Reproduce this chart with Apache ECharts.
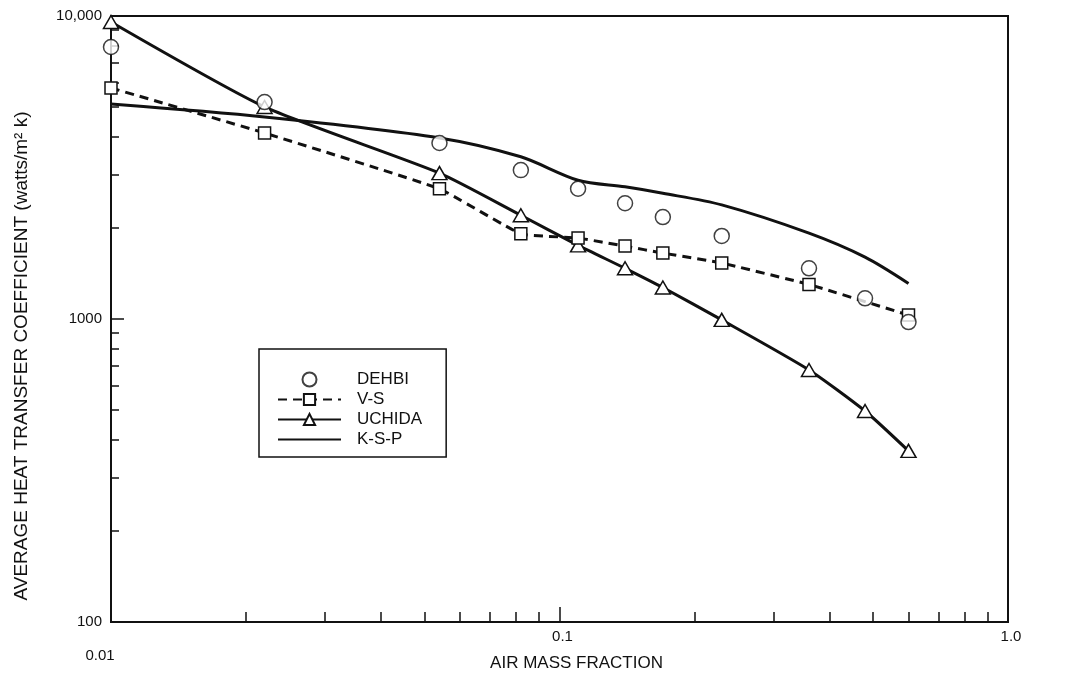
<!DOCTYPE html>
<html>
<head>
<meta charset="utf-8">
<script src="https://cdn.jsdelivr.net/npm/echarts@6/dist/echarts.min.js"></script>
<style>
html,body{margin:0;padding:0;background:#fff;}
#chart{width:1071px;height:690px;}
</style>
</head>
<body>
<div id="chart"></div>
<script>
// ---- data ----
var airMassFraction = [0.01, 0.022, 0.054, 0.082, 0.11, 0.14, 0.17, 0.23, 0.36, 0.48, 0.60];
var dehbi  = [7900, 5200, 3810, 3100, 2690, 2410, 2170, 1880, 1470, 1170, 977];
var vs     = [5790, 4110, 2690, 1910, 1850, 1740, 1650, 1530, 1300, null, 1030];
var uchida = [9550, 5010, 3030, 2200, 1750, 1470, 1270, 993, 679, 497, 367];
var ksp    = [5120, 4640, 3960, 3430, 2870, 2730, 2600, 2380, 1920, 1600, 1310];

var xTickLabels = [0.01, 0.1, 1];
var xMinorTicks = [0.02,0.03,0.04,0.05,0.06,0.07,0.08,0.09,0.1,0.2,0.3,0.4,0.5,0.6,0.7,0.8,0.9];
var yTickLabels = [100, 1000, 10000];
var yMinorTicks = [200,300,400,500,600,700,800,900,1000,2000,3000,4000,5000,6000,7000,8000,9000];

function pairs(ys) {
  var out = [];
  for (var i = 0; i < airMassFraction.length; i++) {
    if (ys[i] != null) out.push([airMassFraction[i], ys[i]]);
  }
  return out;
}

var FONT = '"Liberation Sans", Arial, Helvetica, sans-serif';
var INK = '#111';
var CLEAR = 'rgba(0,0,0,0)';

var chart = echarts.init(document.getElementById('chart'), null, {renderer: 'canvas'});

var option = {
  backgroundColor: '#fff',
  animation: false,
  grid: {
    left: 111, right: 63, top: 16, bottom: 68,
    show: true, borderColor: INK, borderWidth: 2, backgroundColor: 'transparent'
  },
  xAxis: [{
    type: 'log', logBase: 10, min: 0.01, max: 1,
    position: 'bottom',
    axisLine: {show: true, lineStyle: {color: INK, width: 2}},
    axisTick: {show: true, inside: true, length: 10, customValues: xMinorTicks,
               lineStyle: {color: INK, width: 1.5}},
    axisLabel: {show: true, margin: 7, customValues: xTickLabels,
                color: INK, fontSize: 15, fontFamily: FONT,
                formatter: function (v) {
                  v = Number(Number(v).toPrecision(3));
                  if (v === 0.01) return '{low|0.01}';
                  return '{n|' + (v === 1 ? '1.0' : String(v)) + '}';
                },
                rich: {
                  low: {color: INK, fontSize: 15, fontFamily: FONT, padding: [19, 22, 0, 0]},
                  n: {color: INK, fontSize: 15, fontFamily: FONT, padding: [0, 0, 0, 6]}
                }},
    splitLine: {show: false},
    name: 'AIR MASS FRACTION', nameLocation: 'middle', nameGap: 33, nameMoveOverlap: false,
    nameTextStyle: {color: INK, fontSize: 17, fontFamily: FONT, padding: [0, 0, 0, 34]}
  }, {
    type: 'log', logBase: 10, min: 0.01, max: 1,
    position: 'bottom',
    axisLine: {show: false},
    axisTick: {show: true, inside: true, length: 15, customValues: [0.1],
               lineStyle: {color: INK, width: 1.5}},
    axisLabel: {show: false},
    splitLine: {show: false}
  }],
  yAxis: [{
    type: 'log', logBase: 10, min: 100, max: 10000,
    position: 'left',
    axisLine: {show: true, lineStyle: {color: INK, width: 2}},
    axisTick: {show: true, inside: true, length: 8, customValues: yMinorTicks,
               lineStyle: {color: INK, width: 1.5}},
    axisLabel: {show: true, margin: 9, customValues: yTickLabels,
                color: INK, fontSize: 15, fontFamily: FONT,
                formatter: function (v) { v = Math.round(v); return v === 10000 ? '10,000' : String(v); }},
    splitLine: {show: false}
  }, {
    type: 'log', logBase: 10, min: 100, max: 10000,
    position: 'left',
    axisLine: {show: false},
    axisTick: {show: true, inside: true, length: 13, customValues: [1000],
               lineStyle: {color: INK, width: 1.5}},
    axisLabel: {show: false},
    splitLine: {show: false}
  }],
  legend: {
    orient: 'vertical',
    left: 259, top: 349,
    padding: [22, 24, 9, 18],
    itemGap: 3,
    itemWidth: 63, itemHeight: 14,
    borderColor: INK, borderWidth: 1.5,
    backgroundColor: '#fff',
    textStyle: {color: INK, fontSize: 17, fontFamily: FONT, padding: [0, 0, 0, 11]},
    data: ['DEHBI', 'V-S', 'UCHIDA',
           {name: 'K-S-P', itemStyle: {color: CLEAR, borderColor: CLEAR, borderWidth: 0}}]
  },
  graphic: [{
    type: 'text',
    x: 22, y: 356,
    rotation: Math.PI / 2,
    style: {
      text: 'AVERAGE HEAT TRANSFER COEFFICIENT (watts/m\u00B2 k)',
      fill: INK, font: '19px ' + FONT,
      textAlign: 'center', textVerticalAlign: 'middle'
    }
  }],
  series: [{
    name: 'K-S-P', type: 'line', xAxisIndex: 0, yAxisIndex: 0,
    data: pairs(ksp), smooth: 0.3, symbol: 'none',
    lineStyle: {color: INK, width: 3}, itemStyle: {color: INK}, z: 2
  }, {
    name: 'UCHIDA', type: 'line', xAxisIndex: 0, yAxisIndex: 0,
    data: pairs(uchida), smooth: 0.2,
    symbol: 'triangle', symbolSize: [15, 13], showAllSymbol: true,
    lineStyle: {color: INK, width: 3},
    itemStyle: {color: '#fff', borderColor: INK, borderWidth: 1.5}, z: 3
  }, {
    name: 'V-S', type: 'line', xAxisIndex: 0, yAxisIndex: 0,
    data: pairs(vs), smooth: 0.1, connectNulls: true,
    symbol: 'rect', symbolSize: 12, showAllSymbol: true,
    lineStyle: {color: INK, width: 3, type: [9, 6]},
    itemStyle: {color: '#fff', borderColor: INK, borderWidth: 1.5}, z: 4
  }, {
    name: 'DEHBI', type: 'scatter', xAxisIndex: 0, yAxisIndex: 0,
    data: pairs(dehbi),
    symbol: 'circle', symbolSize: 15,
    itemStyle: {color: '#fff', borderColor: INK, borderWidth: 1.5}, z: 5
  }]
};

chart.setOption(option);
</script>
</body>
</html>
